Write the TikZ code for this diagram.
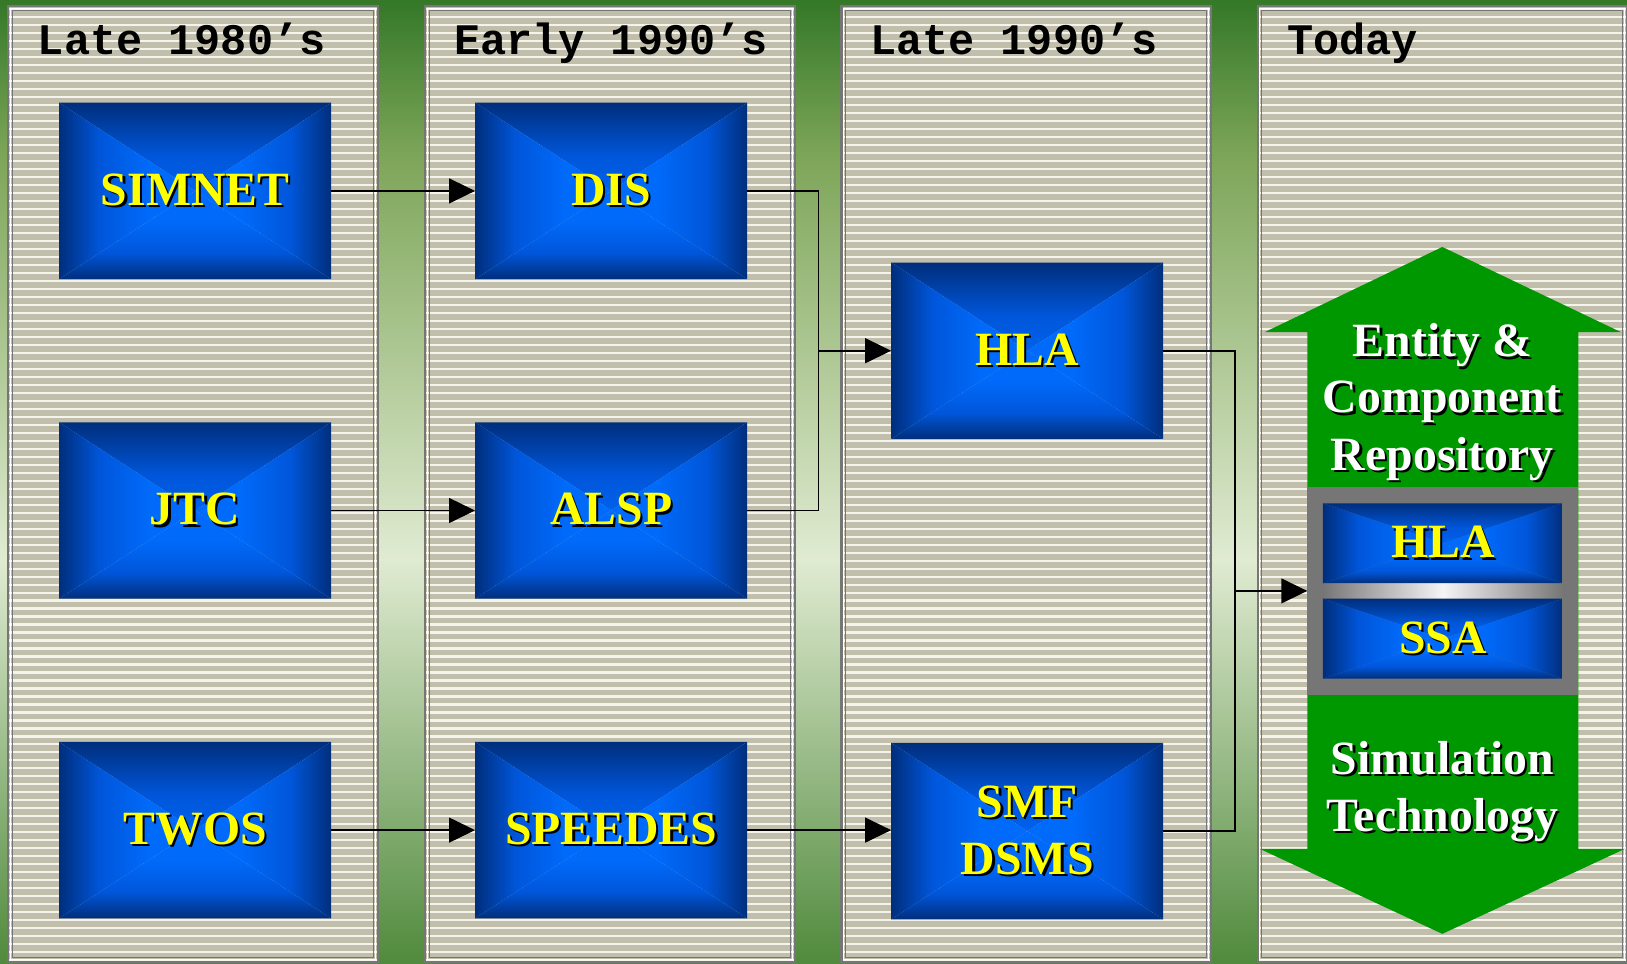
\documentclass[tikz,border=0pt]{standalone}
\usepackage{fontspec}
\setmainfont{Liberation Serif}
\newfontfamily\titlefont{Liberation Mono}
\usetikzlibrary{arrows.meta}

\definecolor{gtop}{RGB}{52,120,40}
\definecolor{gupper}{RGB}{125,165,88}
\definecolor{gpale}{RGB}{224,235,210}
\definecolor{gbot}{RGB}{80,138,60}
\definecolor{stripebase}{RGB}{193,191,171}
\definecolor{stripeline}{RGB}{244,244,236}
\definecolor{framegray}{RGB}{118,118,118}
\definecolor{bcenter}{RGB}{0,106,250}
\definecolor{bmid}{RGB}{0,86,218}
\definecolor{bedge}{RGB}{0,46,124}
\definecolor{arrowgreen}{RGB}{0,152,0}
\definecolor{labelyellow}{RGB}{255,255,0}

\pgfdeclareverticalshading{bggrad}{100bp}{color(0bp)=(gbot); color(25bp)=(gbot); color(46bp)=(gpale); color(67bp)=(gupper); color(75bp)=(gtop); color(100bp)=(gtop)}
\pgfdeclareverticalshading{boxgrad}{100bp}{color(0bp)=(bcenter); color(25bp)=(bcenter); color(42bp)=(bcenter); color(60bp)=(bmid); color(75bp)=(bedge); color(100bp)=(bedge)}
\pgfdeclarehorizontalshading{metalbar}{100bp}{color(0bp)=(framegray); color(25bp)=(framegray); color(50bp)=(white!92!gray); color(75bp)=(framegray); color(100bp)=(framegray)}

\newcommand{\shadowed}[1]{\leavevmode\rlap{\kern2.2pt\raisebox{-2.2pt}{\color{black}#1}}#1}

\begin{document}
\begin{tikzpicture}[x=1pt,y=-1pt,
    period/.style={font=\titlefont\bfseries\fontsize{42}{42}\selectfont, anchor=base west},
    boxshade/.style={inner sep=0pt, text=labelyellow, align=center,
      font=\bfseries\fontsize{46}{55}\selectfont,
      path picture={
        \shade[shading=boxgrad] (path picture bounding box.north west) -- (path picture bounding box.north east) -- (path picture bounding box.center) -- cycle;
        \shade[shading=boxgrad, shading angle=180] (path picture bounding box.south west) -- (path picture bounding box.south east) -- (path picture bounding box.center) -- cycle;
        \shade[shading=boxgrad, shading angle=90] (path picture bounding box.north west) -- (path picture bounding box.south west) -- (path picture bounding box.center) -- cycle;
        \shade[shading=boxgrad, shading angle=270] (path picture bounding box.north east) -- (path picture bounding box.south east) -- (path picture bounding box.center) -- cycle;
      }},
    bluebox/.style={boxshade, minimum width=262pt, minimum height=170pt},
    minibox/.style={boxshade, minimum width=231pt, minimum height=77pt},
    repotext/.style={text=white, anchor=base, font=\bfseries\fontsize{46}{55}\selectfont},
    wire/.style={line width=1.5pt},
    link/.style={wire, -{Triangle[length=25pt,width=24pt]}}]

    % Background
    \clip (0,0) rectangle (1568,929);
    \shade[shading=bggrad] (0,0) rectangle (1568,929);

    % Period columns
    \foreach \xl in {8,410,811,1212} {
      \begin{scope}
        \clip (\xl,6) rectangle ++(356,921);
        \fill[stripebase] (\xl,6) rectangle ++(356,921);
        \draw[stripeline, line width=2.1pt] \foreach \yy in {9,16.7,...,930} {(\xl,\yy) -- ++(356,0)};
      \end{scope}
      \draw[framegray, line width=2pt] (\xl,6) rectangle ++(356,921);
      \draw[white, line width=1pt] (\xl+2.2,8.2) rectangle ++(351.6,916.6);
      \draw[framegray, line width=1.2pt] (\xl+4,10) rectangle ++(348,913);
    }

    % Titles
    \node[period] (late80) at (33,53) {Late 1980’s};
    \node[period] (early90) at (434,53) {Early 1990’s};
    \node[period] (late90) at (835,53) {Late 1990’s};
    \node[period] (today) at (1237,53) {Today};

    % Programs
    \node[bluebox] (simnet) at (188,184) {\shadowed{SIMNET}};
    \node[bluebox] (jtc) at (188,492) {\shadowed{JTC}};
    \node[bluebox] (twos) at (188,800) {\shadowed{TWOS}};
    \node[bluebox] (dis) at (589,184) {\shadowed{DIS}};
    \node[bluebox] (alsp) at (589,492) {\shadowed{ALSP}};
    \node[bluebox] (speedes) at (589,800) {\shadowed{SPEEDES}};
    \node[bluebox] (hla) at (990,338) {\shadowed{HLA}};
    \node[bluebox] (smf) at (990,801) {\shadowed{SMF}\\\shadowed{DSMS}};

    % Double arrow of today
    \fill[arrowgreen] (1390,238) -- (1562,320) -- (1521,320) -- (1521,818) -- (1566,818)
      -- (1390,900) -- (1214,818) -- (1260,818) -- (1260,320) -- (1219,320) -- cycle;
    \node[fill=framegray, inner sep=0pt, minimum width=261pt, minimum height=201pt] (repo) at (1390.5,569.5) {};
    \shade[shading=metalbar] (1275,561) rectangle (1506,578);
    \node[minibox] (hlanow) at (1390.5,523.5) {\shadowed{HLA}};
    \node[minibox] (ssanow) at (1390.5,615.5) {\shadowed{SSA}};
    \node[repotext] (entity) at (1390,344) {\shadowed{Entity \&}};
    \node[repotext] (component) at (1390,398) {\shadowed{Component}};
    \node[repotext] (repository) at (1390,453) {\shadowed{Repository}};
    \node[repotext] (simulation) at (1390,746) {\shadowed{Simulation}};
    \node[repotext] (technology) at (1390,801) {\shadowed{Technology}};

    % Connectors
    \draw[link] (simnet) -- (dis);
    \draw[link] (jtc) -- (alsp);
    \draw[link] (twos) -- (speedes);
    \draw[link] (speedes.east) -- (smf.west |- speedes.east);
    \coordinate (join1) at (789,338);
    \draw[wire] (dis.east) -| (join1) |- (alsp.east);
    \draw[link] (join1) -- (hla);
    \coordinate (join2) at (1190,569.5);
    \draw[wire] (hla.east) -| (join2) |- (smf.east);
    \draw[link] (join2) -- (repo);
\end{tikzpicture}
\end{document}
